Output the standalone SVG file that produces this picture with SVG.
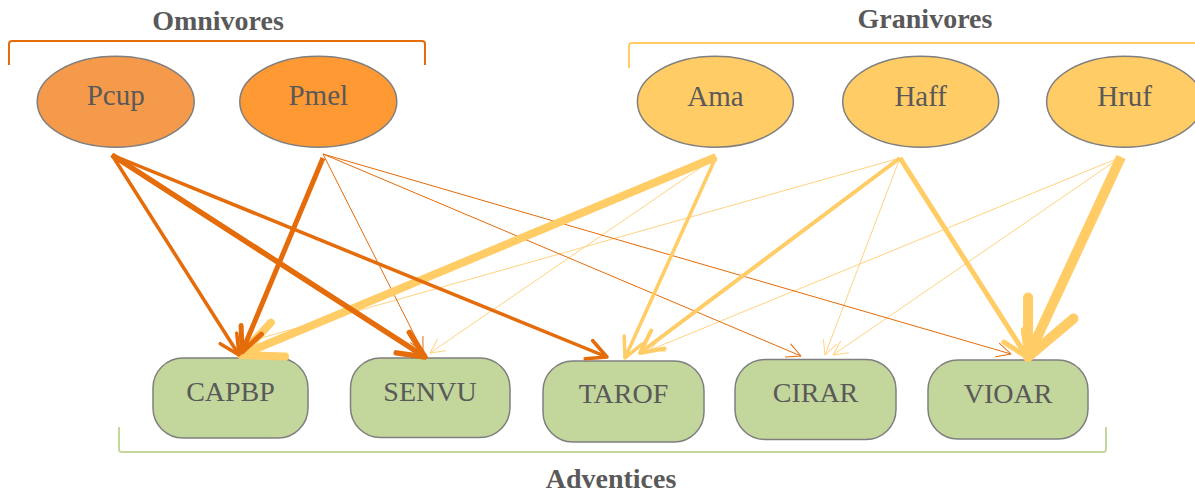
<svg xmlns="http://www.w3.org/2000/svg" width="1195" height="495" viewBox="0 0 1195 495">
<style>
  .title { font-family: "Liberation Serif", serif; font-weight: bold; font-size: 28px; fill: #595959; text-anchor: middle; }
  .ntext { font-family: "Liberation Serif", serif; font-size: 29px; fill: #595959; text-anchor: middle; }
  .btext { font-family: "Liberation Serif", serif; font-size: 28px; fill: #595959; text-anchor: middle; }
  .ell { stroke: #7F7F7F; stroke-width: 1.5; }
  .box { fill: #C3D69B; stroke: #7F7F7F; stroke-width: 1.5; }
  .brk { fill: none; stroke-width: 2; stroke-linejoin: round; }
  .dk { stroke: #E46C0A; fill: none; }
  .lt { stroke: #FFCC66; fill: none; }
  .ltt { stroke: #FFD380; fill: none; }
  .mk { fill: none; stroke-linecap: round; stroke-linejoin: round; }
</style>
<defs>
  <marker id="dkB" markerUnits="strokeWidth" orient="auto" refX="0" refY="0" markerWidth="1" markerHeight="1" overflow="visible">
    <path class="mk" d="M-4.8,-2.2 L0,0 L-4.8,2.2" stroke="#E46C0A" stroke-width="1"/>
  </marker>
  <marker id="dkM" markerUnits="strokeWidth" orient="auto" refX="0" refY="0" markerWidth="1" markerHeight="1" overflow="visible">
    <path class="mk" d="M-5.6,-2.8 L0,0 L-5.6,2.8" stroke="#E46C0A" stroke-width="1"/>
  </marker>
  <marker id="dkT" markerUnits="strokeWidth" orient="auto" refX="0" refY="0" markerWidth="1" markerHeight="1" overflow="visible">
    <path class="mk" d="M-14,-7 L0,0 L-14,7" stroke="#E46C0A" stroke-width="1"/>
  </marker>
  <marker id="ltB" markerUnits="strokeWidth" orient="auto" refX="0" refY="0" markerWidth="1" markerHeight="1" overflow="visible">
    <path class="mk" d="M-5,-2.3 L0,0 L-5,2.3" stroke="#FFCC66" stroke-width="1"/>
  </marker>
  <marker id="ltX" markerUnits="strokeWidth" orient="auto" refX="0" refY="0" markerWidth="1" markerHeight="1" overflow="visible">
    <path class="mk" d="M-5.4,-2.5 L0,0 L-5.4,2.5" stroke="#FFCC66" stroke-width="1"/>
  </marker>
  <marker id="ltM" markerUnits="strokeWidth" orient="auto" refX="0" refY="0" markerWidth="1" markerHeight="1" overflow="visible">
    <path class="mk" d="M-5.6,-2.8 L0,0 L-5.6,2.8" stroke="#FFCC66" stroke-width="1"/>
  </marker>
  <marker id="ltT" markerUnits="strokeWidth" orient="auto" refX="0" refY="0" markerWidth="1" markerHeight="1" overflow="visible">
    <path class="mk" d="M-14,-7 L0,0 L-14,7" stroke="#FFD380" stroke-width="1"/>
  </marker>
</defs>

<g id="brackets">
  <path class="brk" stroke="#E46C0A" d="M9,65 L9,44 Q9,41 12,41 L422,41 Q425,41 425,44 L425,65"/>
  <path class="brk" stroke="#FFCC66" d="M629,68 L629,46 Q629,43 632,43 L1200,43"/>
  <path class="brk" stroke="#C3D69B" d="M119,427 L119,450 Q119,452 122,452 L1103,452 Q1106,452 1106,449 L1106,427"/>
</g>

<g id="titles">
  <text class="title" x="218" y="30">Omnivores</text>
  <text class="title" x="925" y="28">Granivores</text>
  <text class="title" x="611" y="488">Adventices</text>
</g>

<g id="node-Pcup"><ellipse class="ell" fill="#F5994B" cx="115.7" cy="101.7" rx="78.5" ry="45.5"/><text class="ntext" x="115.7" y="105">Pcup</text></g>
<g id="node-Pmel"><ellipse class="ell" fill="#FF9933" cx="318.3" cy="101.7" rx="78.5" ry="45.5"/><text class="ntext" x="318.3" y="105">Pmel</text></g>
<g id="node-Ama"><ellipse class="ell" fill="#FFCC66" cx="715.4" cy="101.7" rx="78" ry="45.5"/><text class="ntext" x="715.4" y="106">Ama</text></g>
<g id="node-Haff"><ellipse class="ell" fill="#FFCC66" cx="920.7" cy="101.7" rx="78" ry="45.5"/><text class="ntext" x="920.7" y="106">Haff</text></g>
<g id="node-Hruf"><ellipse class="ell" fill="#FFCC66" cx="1124.6" cy="101.7" rx="78" ry="45.5"/><text class="ntext" x="1124.6" y="106">Hruf</text></g>

<g id="node-CAPBP"><rect class="box" x="153" y="358" width="155" height="80" rx="30" ry="30"/><text class="btext" x="230.5" y="401">CAPBP</text></g>
<g id="node-SENVU"><rect class="box" x="350.5" y="358" width="159.5" height="79.5" rx="30" ry="30"/><text class="btext" x="430" y="401">SENVU</text></g>
<g id="node-TAROF"><rect class="box" x="543" y="361" width="161" height="81" rx="30" ry="30"/><text class="btext" x="623.5" y="403">TAROF</text></g>
<g id="node-CIRAR"><rect class="box" x="735" y="359.5" width="161" height="80" rx="30" ry="30"/><text class="btext" x="815.5" y="402">CIRAR</text></g>
<g id="node-VIOAR"><rect class="box" x="928" y="360" width="160" height="79" rx="30" ry="30"/><text class="btext" x="1008" y="403">VIOAR</text></g>

<g id="connectors">
  <!-- granivore thin -->
  <line class="ltt" x1="716" y1="157" x2="430" y2="353" stroke-width="1" marker-end="url(#ltT)"/>
  <line class="ltt" x1="900" y1="158" x2="247" y2="342" stroke-width="1" marker-end="url(#ltT)"/>
  <line class="ltt" x1="900" y1="158" x2="825" y2="355" stroke-width="1" marker-end="url(#ltT)"/>
  <line class="ltt" x1="1121" y1="157" x2="650" y2="350" stroke-width="1" marker-end="url(#ltT)"/>
  <line class="ltt" x1="1121" y1="157" x2="833" y2="355" stroke-width="1" marker-end="url(#ltT)"/>
  <!-- omnivore thin -->
  <line class="dk" x1="323" y1="154" x2="423" y2="352" stroke-width="1" marker-end="url(#dkT)"/>
  <line class="dk" x1="323" y1="154" x2="801" y2="356" stroke-width="1" marker-end="url(#dkT)"/>
  <line class="dk" x1="323" y1="154" x2="1011" y2="354" stroke-width="1" marker-end="url(#dkT)"/>
  <!-- granivore strong -->
  <line class="lt" x1="716" y1="157" x2="241" y2="355" stroke-width="8" marker-end="url(#ltB)"/>
  <line class="lt" x1="716" y1="157" x2="625" y2="358" stroke-width="3.5" marker-end="url(#ltM)"/>
  <line class="lt" x1="900" y1="158" x2="640" y2="353" stroke-width="4" marker-end="url(#ltM)"/>
  <line class="lt" x1="900" y1="158" x2="1027" y2="357" stroke-width="5" marker-end="url(#ltB)"/>
  <line class="lt" x1="1121" y1="157" x2="1028" y2="357" stroke-width="10" marker-end="url(#ltX)"/>
  <!-- omnivore strong -->
  <line class="dk" x1="112" y1="155" x2="239" y2="355" stroke-width="3.5" marker-end="url(#dkM)"/>
  <line class="dk" x1="112" y1="155" x2="425" y2="357" stroke-width="5.5" marker-end="url(#dkB)"/>
  <line class="dk" x1="112" y1="155" x2="607" y2="357" stroke-width="3.5" marker-end="url(#dkM)"/>
  <line class="dk" x1="323" y1="158" x2="242" y2="352" stroke-width="5" marker-end="url(#dkB)"/>
</g>
</svg>
